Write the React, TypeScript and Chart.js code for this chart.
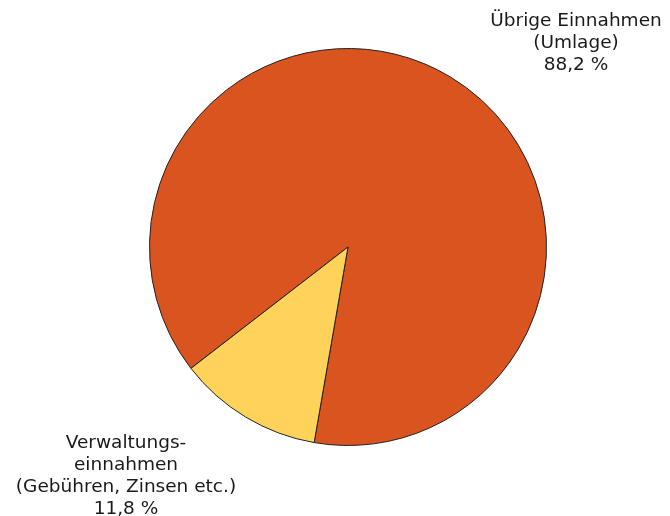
import React, { useEffect, useRef } from "react";
import { Chart, registerables } from "chart.js";

Chart.register(...registerables);

const categories = ["Übrige Einnahmen (Umlage)", "Verwaltungseinnahmen (Gebühren, Zinsen etc.)"];
const values = [88.2, 11.8];
const colors = ["#D9541E", "#FFD35A"];
const labelLines = [
  ["Übrige Einnahmen", "(Umlage)", "88,2 %"],
  ["Verwaltungs-", "einnahmen", "(Gebühren, Zinsen etc.)", "11,8 %"],
];
const labelPos = [
  { x: 576, y: 21 },
  { x: 126, y: 443 },
];

const labelPlugin = {
  id: "outerLabels",
  afterDraw(chart: any) {
    const ctx = chart.ctx;
    ctx.save();
    ctx.fillStyle = "#1a1a1a";
    ctx.font = "18.5px 'DejaVu Sans'";
    ctx.textAlign = "center";
    ctx.textBaseline = "middle";
    labelLines.forEach((lines, i) => {
      lines.forEach((line, j) => {
        ctx.fillText(line, labelPos[i].x, labelPos[i].y + j * 22);
      });
    });
    ctx.restore();
  },
};

export default function App() {
  const ref = useRef<HTMLCanvasElement>(null);
  useEffect(() => {
    if (!ref.current) return;
    const chart = new Chart(ref.current, {
      type: "pie",
      data: {
        labels: categories,
        datasets: [
          {
            data: values,
            backgroundColor: colors,
            borderColor: "#222",
            borderWidth: 1,
          },
        ],
      },
      options: {
        responsive: false,
        animation: false,
        rotation: -127.7,
        layout: { padding: { left: 149, right: 123, top: 48, bottom: 70 } },
        plugins: { legend: { display: false }, tooltip: { enabled: false } },
      },
      plugins: [labelPlugin],
    });
    return () => chart.destroy();
  }, []);
  return (
    <div style={{ position: "absolute", left: 0, top: 0, width: 670, height: 516, background: "#fff" }}>
      <canvas ref={ref} width={670} height={516} />
    </div>
  );
}
